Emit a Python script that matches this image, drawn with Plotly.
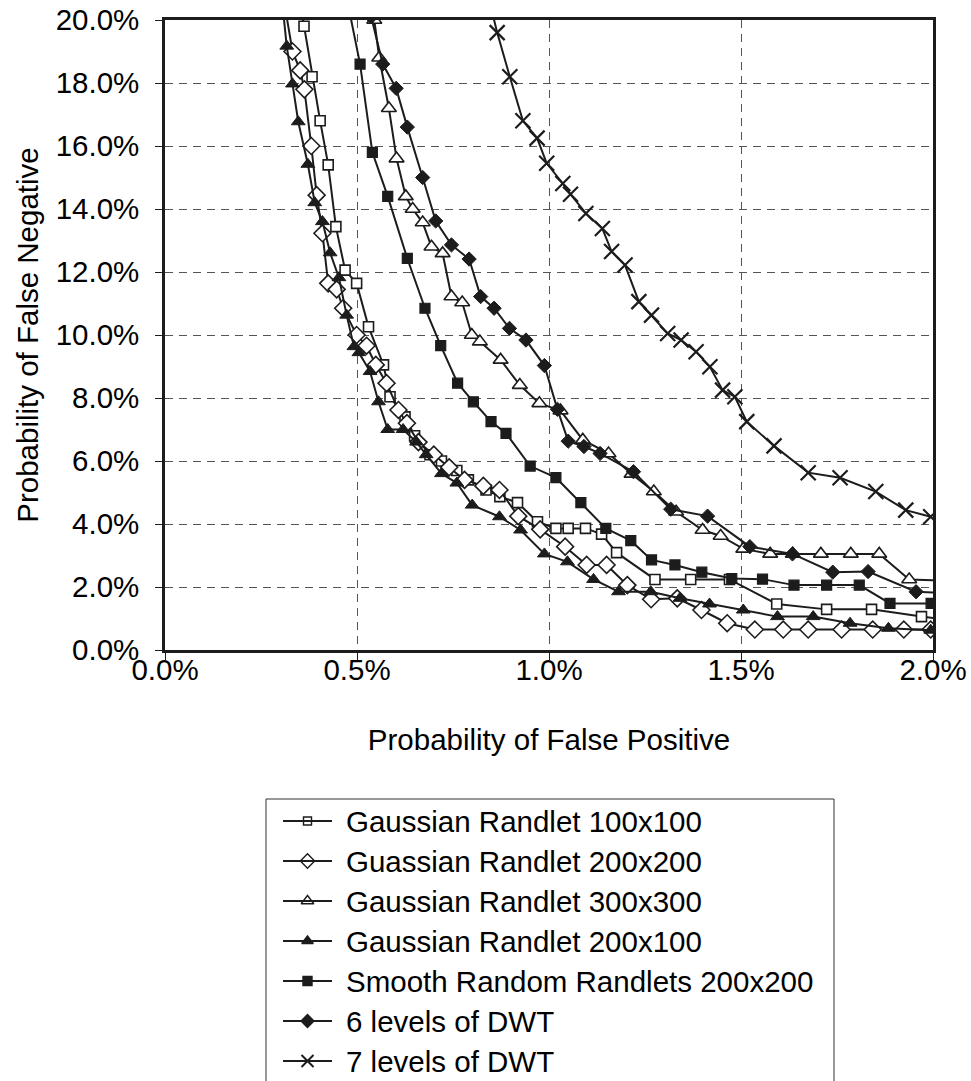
import plotly.graph_objects as go

# False positive / false negative operating points (percent)
names = [
    "Gaussian Randlet 100x100",
    "Guassian Randlet 200x200",
    "Gaussian Randlet 300x300",
    "Gaussian Randlet 200x100",
    "Smooth Random Randlets 200x200",
    "6 levels of DWT",
    "7 levels of DWT",
]

gr100_fp = [0.34, 0.362, 0.383, 0.404, 0.425, 0.445, 0.469, 0.499, 0.53, 0.569, 0.586, 0.625, 0.65, 0.69,
            0.72, 0.76, 0.79, 0.836, 0.872, 0.918, 0.97, 1.018, 1.05, 1.095, 1.137, 1.176, 1.276, 1.369,
            1.47, 1.593, 1.723, 1.84, 1.97, 2.05]
gr100_fn = [21.4, 19.8, 18.2, 16.8, 15.4, 13.44, 12.06, 11.64, 10.26, 9.05, 8.04, 7.4, 6.8, 6.2,
            6.0, 5.7, 5.4, 5.08, 4.87, 4.68, 4.07, 3.86, 3.86, 3.86, 3.68, 3.09, 2.24, 2.24,
            2.24, 1.46, 1.29, 1.29, 1.06, 0.95]

gr200_fp = [0.31, 0.332, 0.352, 0.363, 0.381, 0.395, 0.41, 0.425, 0.447, 0.464, 0.499, 0.525, 0.549, 0.577,
            0.608, 0.63, 0.66, 0.70, 0.74, 0.78, 0.829, 0.871, 0.92, 0.977, 1.042, 1.098, 1.15, 1.204,
            1.266, 1.334, 1.397, 1.464, 1.536, 1.61, 1.675, 1.762, 1.843, 1.924, 1.994]
gr200_fn = [20.6, 19.0, 18.4, 17.8, 16.0, 14.44, 13.23, 11.64, 11.45, 10.85, 10.0, 9.66, 9.05, 8.47,
            7.62, 7.2, 6.6, 6.2, 5.8, 5.4, 5.21, 5.08, 4.25, 3.83, 3.28, 2.7, 2.7, 2.06,
            1.61, 1.64, 1.27, 0.85, 0.65, 0.65, 0.65, 0.65, 0.65, 0.65, 0.65]

gr300_fp = [0.545, 0.558, 0.583, 0.603, 0.627, 0.645, 0.671, 0.694, 0.723, 0.746, 0.774, 0.799, 0.82, 0.874,
            0.924, 0.975, 1.03, 1.088, 1.155, 1.215, 1.273, 1.331, 1.4, 1.447, 1.506, 1.576, 1.635, 1.708,
            1.786, 1.86, 1.938, 2.05]
gr300_fn = [20.0, 18.8, 17.2, 15.6, 14.4, 14.0, 13.57, 12.8, 12.59, 11.22, 11.03, 10.0, 9.79, 9.21,
            8.41, 7.83, 7.6, 6.67, 6.24, 5.59, 5.03, 4.39, 3.81, 3.62, 3.21, 3.05, 3.05, 3.05,
            3.05, 3.05, 2.24, 2.2]

gr21_fp = [0.305, 0.317, 0.332, 0.347, 0.372, 0.39, 0.41, 0.43, 0.453, 0.473, 0.492, 0.505, 0.534, 0.556,
           0.58, 0.62, 0.655, 0.68, 0.72, 0.76, 0.80, 0.871, 0.926, 0.988, 1.048, 1.116, 1.181, 1.265,
           1.341, 1.418, 1.506, 1.595, 1.688, 1.784, 1.884, 1.994]
gr21_fn = [20.6, 19.17, 17.97, 16.77, 15.42, 14.2, 13.6, 12.61, 11.82, 10.63, 9.63, 9.44, 8.84, 7.88,
           7.0, 7.0, 6.6, 6.2, 5.6, 5.3, 4.6, 4.23, 3.81, 3.05, 2.8, 2.24, 1.85, 1.85,
           1.64, 1.46, 1.27, 1.06, 1.06, 0.85, 0.69, 0.63]

srr_fp = [0.465, 0.508, 0.54, 0.58, 0.631, 0.677, 0.718, 0.762, 0.803, 0.849, 0.888, 0.951, 1.018, 1.083,
          1.148, 1.213, 1.267, 1.328, 1.398, 1.476, 1.556, 1.638, 1.723, 1.808, 1.888, 1.995]
srr_fn = [21.2, 18.6, 15.8, 14.4, 12.43, 10.85, 9.66, 8.47, 7.88, 7.25, 6.88, 5.84, 5.47, 4.68,
          3.86, 3.47, 2.86, 2.7, 2.47, 2.27, 2.25, 2.06, 2.06, 2.06, 1.48, 1.48]

dwt6_fp = [0.537, 0.567, 0.602, 0.631, 0.671, 0.705, 0.746, 0.792, 0.822, 0.857, 0.897, 0.94, 0.988, 1.022,
           1.05, 1.091, 1.133, 1.22, 1.317, 1.413, 1.523, 1.634, 1.739, 1.831, 1.956, 2.05]
dwt6_fn = [20.1, 18.6, 17.83, 16.6, 15.0, 13.62, 12.86, 12.41, 11.22, 10.85, 10.21, 9.84, 9.03, 7.64,
           6.63, 6.46, 6.24, 5.66, 4.47, 4.25, 3.28, 3.05, 2.47, 2.49, 1.85, 1.8]

dwt7_fp = [0.845, 0.865, 0.898, 0.932, 0.969, 0.994, 1.036, 1.056, 1.096, 1.139, 1.163, 1.198, 1.234, 1.267,
           1.309, 1.344, 1.383, 1.419, 1.452, 1.484, 1.515, 1.586, 1.675, 1.758, 1.851, 1.929, 1.994]
dwt7_fn = [20.6, 19.6, 18.2, 16.8, 16.25, 15.45, 14.81, 14.47, 13.86, 13.38, 12.65, 12.22, 11.06, 10.63,
           10.05, 9.84, 9.47, 8.99, 8.25, 8.04, 7.25, 6.48, 5.63, 5.47, 5.03, 4.44, 4.23]

x_ticks = [0.0, 0.5, 1.0, 1.5, 2.0]
x_tick_text = ["0.0%", "0.5%", "1.0%", "1.5%", "2.0%"]
y_ticks = [0, 2, 4, 6, 8, 10, 12, 14, 16, 18, 20]
y_tick_text = ["0.0%", "2.0%", "4.0%", "6.0%", "8.0%", "10.0%", "12.0%", "14.0%", "16.0%", "18.0%", "20.0%"]

INK = "#1c1c1c"
FONT = "Liberation Sans, Arial, sans-serif"
FS = 29.5

# Figure geometry (pixels)
W, H = 971, 1081
PL, PR, PT, PB = 165, 933, 20, 650

series = [
    (gr100_fp, gr100_fn, dict(symbol="square", size=10, color="white", line=dict(color=INK, width=1.6)), 8),
    (gr200_fp, gr200_fn, dict(symbol="diamond", size=13, color="white", line=dict(color=INK, width=1.6)), 11),
    (gr300_fp, gr300_fn, dict(symbol="triangle-up", size=13, color="white", line=dict(color=INK, width=1.6)), 11),
    (gr21_fp, gr21_fn, dict(symbol="triangle-up", size=12, color=INK, line=dict(color=INK, width=1)), 10),
    (srr_fp, srr_fn, dict(symbol="square", size=10, color=INK, line=dict(color=INK, width=1.2)), 9),
    (dwt6_fp, dwt6_fn, dict(symbol="diamond", size=11, color=INK, line=dict(color=INK, width=1)), 10),
    (dwt7_fp, dwt7_fn, dict(symbol="x-thin", size=15, color=INK, line=dict(color=INK, width=2.2)), 12),
]

fig = go.Figure()

for name, (xs, ys, mk, _) in zip(names, series):
    fig.add_trace(go.Scatter(
        x=xs, y=ys, mode="lines+markers", name=name,
        line=dict(color=INK, width=2),
        marker=mk, showlegend=False, xaxis="x", yaxis="y",
    ))

# Legend block below the chart, laid out on a full-canvas helper axis in pixel units
LEG_LEFT, LEG_RIGHT, LEG_TOP, LEG_BOTTOM = 266, 834, 799, 1110
LEG_ROW0, LEG_ROW_STEP = 821, 40.0
LEG_LINE_X0, LEG_LINE_X1, LEG_TEXT_X = 283, 332, 345

fig.add_shape(type="rect", xref="x2", yref="y2", x0=LEG_LEFT, x1=LEG_RIGHT, y0=LEG_TOP, y1=LEG_BOTTOM,
              line=dict(color="#333333", width=1), fillcolor="rgba(0,0,0,0)")

for i, (name, (_, _, mk, leg_size)) in enumerate(zip(names, series)):
    row_y = LEG_ROW0 + i * LEG_ROW_STEP
    fig.add_shape(type="line", xref="x2", yref="y2", x0=LEG_LINE_X0, x1=LEG_LINE_X1, y0=row_y, y1=row_y,
                  line=dict(color=INK, width=2))
    lmk = dict(mk)
    lmk["size"] = leg_size
    lmk["line"] = dict(color=INK, width=2 if mk["symbol"] == "x-thin" else 1.4)
    fig.add_trace(go.Scatter(x=[(LEG_LINE_X0 + LEG_LINE_X1) / 2], y=[row_y], mode="markers", marker=lmk,
                             xaxis="x2", yaxis="y2", showlegend=False, hoverinfo="skip"))
    fig.add_annotation(xref="x2", yref="y2", x=LEG_TEXT_X, y=row_y, xanchor="left", yanchor="middle",
                       text=name, showarrow=False, borderpad=0,
                       font=dict(family=FONT, size=FS, color="black"))

axis_common = dict(
    showline=True, linecolor=INK, linewidth=2.5, mirror=True,
    ticks="outside", ticklen=7, tickcolor=INK, tickwidth=1,
    showgrid=True, gridcolor="#555555", gridwidth=1, griddash="8px,6px",
    zeroline=False, automargin=False,
    tickfont=dict(family=FONT, size=FS, color="black"),
)

fig.update_layout(
    width=W, height=H,
    margin=dict(l=0, r=0, t=0, b=0, pad=0, autoexpand=False),
    paper_bgcolor="white", plot_bgcolor="rgba(0,0,0,0)",
    font=dict(family=FONT, size=FS, color="black"),
    showlegend=False,
    xaxis=dict(
        domain=[PL / W, PR / W], anchor="y",
        range=[0, 2.0], tickmode="array", tickvals=x_ticks, ticktext=x_tick_text,
        ticklabelstandoff=-15,
        title=dict(text="Probability of False Positive", font=dict(family=FONT, size=FS, color="black"),
                   standoff=45),
        **axis_common,
    ),
    yaxis=dict(
        domain=[(H - PB) / H, (H - PT) / H], anchor="x",
        range=[0, 20.0], tickmode="array", tickvals=y_ticks, ticktext=y_tick_text,
        ticklabelstandoff=10,
        title=dict(text="Probability of False Negative", font=dict(family=FONT, size=FS, color="black"),
                   standoff=9),
        **axis_common,
    ),
    xaxis2=dict(domain=[0, 1], anchor="y2", range=[0, W], visible=False, fixedrange=True,
                automargin=False),
    yaxis2=dict(domain=[0, 1], anchor="x2", range=[H, 0], visible=False, fixedrange=True,
                automargin=False),
)

fig.write_html("out.html")
